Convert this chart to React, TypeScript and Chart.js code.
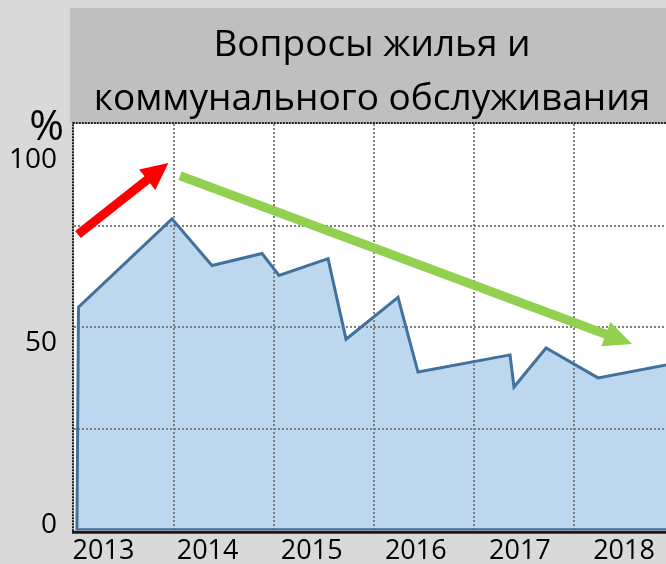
import React, { useEffect, useRef } from "react";
import { Chart, registerables } from "chart.js";
Chart.register(...registerables);

const TITLE_LINES = ["Вопросы жилья и", "коммунального обслуживания"];
const UNIT_LABEL = "%";
const YEARS = [2013, 2014, 2015, 2016, 2017, 2018];
const Y_TICKS = [0, 50, 100];
const X_MIN = 2012.717;
const X_MAX = 2018.403;
const Y_MIN = -1.36;
const Y_MAX = 110;
const GRID_COLS = 5.92;
const GRID_ROWS = 4;

// series (decimal year, %)
const SERIES_X = [2012.745, 2012.76, 2013.658, 2014.042, 2014.523, 2014.686, 2015.157, 2015.33, 2015.829, 2016.021, 2016.905, 2016.943, 2017.251, 2017.75, 2018.6];
const SERIES_Y = [Y_MIN, 59.8, 84.0, 71.2, 74.5, 68.5, 73.1, 51.0, 62.5, 42.0, 46.7, 37.9, 48.6, 40.4, 45.0];

// trend arrows: [x0, y0, x1, y1]
const RED_ARROW = [2012.755, 79.7, 2013.624, 99.3];
const GREEN_ARROW = [2013.735, 95.8, 2018.077, 49.7];

const FONT = "'Open Sans', 'Noto Sans', sans-serif";

function drawArrow(ctx: CanvasRenderingContext2D, x0: number, y0: number, x1: number, y1: number, color: string, w: number, hl: number, hw: number) {
  const dx = x1 - x0, dy = y1 - y0;
  const len = Math.hypot(dx, dy);
  const ux = dx / len, uy = dy / len;
  const px = -uy, py = ux;
  const bx = x1 - ux * hl, by = y1 - uy * hl;
  ctx.save();
  ctx.fillStyle = color;
  ctx.beginPath();
  ctx.moveTo(x0 + px * w / 2, y0 + py * w / 2);
  ctx.lineTo(bx + px * w / 2, by + py * w / 2);
  ctx.lineTo(bx + px * hw, by + py * hw);
  ctx.lineTo(x1, y1);
  ctx.lineTo(bx - px * hw, by - py * hw);
  ctx.lineTo(bx - px * w / 2, by - py * w / 2);
  ctx.lineTo(x0 - px * w / 2, y0 - py * w / 2);
  ctx.closePath();
  ctx.fill();
  ctx.restore();
}

const decorPlugin = {
  id: "decor",
  beforeDraw(chart: any) {
    const { ctx, chartArea: a, width, height } = chart;
    ctx.save();
    ctx.fillStyle = "#d9d9d9";
    ctx.fillRect(0, 0, width, height);
    ctx.fillStyle = "#bfbfbf";
    ctx.fillRect(70, 8, width - 70, a.top - 2 - 8);
    ctx.fillStyle = "#ffffff";
    ctx.fillRect(a.left, a.top, a.right - a.left, a.bottom - a.top);
    // title
    ctx.fillStyle = "#000";
    ctx.font = `37px ${FONT}`;
    ctx.textAlign = "center";
    ctx.textBaseline = "alphabetic";
    const cx = 372;
    ctx.fillText(TITLE_LINES[0], cx, 56);
    ctx.fillText(TITLE_LINES[1], cx, 110);
    // unit
    ctx.font = `42px ${FONT}`;
    ctx.textAlign = "right";
    ctx.fillText(UNIT_LABEL, 64, 140);
    ctx.restore();
  },
  afterDatasetDraw(chart: any, args: any) {
    if (args.index !== 0) return;
    const { ctx, chartArea: a } = chart;
    const xg = chart.scales.xg, yg = chart.scales.yg;
    ctx.save();
    ctx.strokeStyle = "#808080";
    ctx.lineWidth = 2;
    ctx.setLineDash([2, 2]);
    xg.ticks.forEach((t: any) => {
      const x = Math.round(xg.getPixelForValue(t.value));
      if (x <= a.left + 2 || x >= a.right) return;
      ctx.beginPath();
      ctx.moveTo(x, a.top);
      ctx.lineTo(x, a.bottom);
      ctx.stroke();
    });
    yg.ticks.forEach((t: any) => {
      const y = Math.round(yg.getPixelForValue(t.value));
      if (y <= a.top + 2 || y >= a.bottom - 2) return;
      ctx.beginPath();
      ctx.moveTo(a.left, y);
      ctx.lineTo(a.right, y);
      ctx.stroke();
    });
    ctx.restore();
  },
  afterDraw(chart: any) {
    const { ctx, chartArea: a } = chart;
    const xs = chart.scales.x, ys = chart.scales.y;
    ctx.save();
    // series baseline
    ctx.strokeStyle = "#41719c";
    ctx.lineWidth = 2;
    ctx.beginPath();
    ctx.moveTo(xs.getPixelForValue(SERIES_X[0]), a.bottom - 1);
    ctx.lineTo(a.right, a.bottom - 1);
    ctx.stroke();
    // borders
    ctx.strokeStyle = "#1a1a1a";
    ctx.lineWidth = 3;
    ctx.beginPath();
    ctx.moveTo(a.left - 2, a.bottom + 2);
    ctx.lineTo(a.right, a.bottom + 2);
    ctx.stroke();
    ctx.lineWidth = 2;
    ctx.setLineDash([2, 1]);
    ctx.beginPath();
    ctx.moveTo(a.left - 1, a.bottom + 1);
    ctx.lineTo(a.left - 1, a.top - 1);
    ctx.lineTo(a.right, a.top - 1);
    ctx.stroke();
    ctx.restore();
    // arrows
    const arrow = (d: number[], c: string, w: number, hl: number, hw: number) =>
      drawArrow(ctx, xs.getPixelForValue(d[0]), ys.getPixelForValue(d[1]), xs.getPixelForValue(d[2]), ys.getPixelForValue(d[3]), c, w, hl, hw);
    arrow(RED_ARROW, "#ff0000", 9, 27, 13);
    arrow(GREEN_ARROW, "#92d050", 9, 28, 13);
  },
};

export default function App() {
  const ref = useRef<HTMLCanvasElement | null>(null);
  useEffect(() => {
    if (!ref.current) return;
    const pts = SERIES_X.map((x, i) => ({ x, y: SERIES_Y[i] }));
    const chart = new Chart(ref.current, {
      type: "line",
      data: {
        datasets: [
          {
            data: pts,
            borderWidth: 0,
            borderColor: "rgba(0,0,0,0)",
            backgroundColor: "#bdd7ee",
            fill: "start",
            pointRadius: 0,
            tension: 0,
            order: 2,
          },
          {
            data: pts,
            borderWidth: 3,
            borderColor: "#41719c",
            fill: false,
            pointRadius: 0,
            tension: 0,
            order: 1,
          },
        ],
      },
      options: {
        animation: false,
        responsive: false,
        events: [],
        layout: { padding: { top: 124, left: 0, right: 0, bottom: 0 } },
        plugins: { legend: { display: false }, tooltip: { enabled: false }, title: { display: false } },
        scales: {
          x: {
            type: "linear",
            min: X_MIN,
            max: X_MAX,
            afterBuildTicks: (s: any) => { s.ticks = YEARS.map((v) => ({ value: v })); },
            afterFit: (s: any) => { s.height = 32; },
            grid: { display: false, drawTicks: false },
            border: { display: false },
            ticks: {
              autoSkip: false,
              maxRotation: 0,
              padding: 5,
              color: "#000",
              font: { family: FONT, size: 27 },
              callback: (v: any) => String(v),
            },
          },
          y: {
            type: "linear",
            min: Y_MIN,
            max: Y_MAX,
            afterBuildTicks: (s: any) => { s.ticks = Y_TICKS.map((v) => ({ value: v })); },
            afterFit: (s: any) => { s.width = 74; },
            grid: { display: false, drawTicks: false },
            border: { display: false },
            ticks: {
              padding: 17,
              color: "#000",
              font: { family: FONT, size: 28 },
              callback: (v: any) => String(v),
            },
          },
          xg: { type: "linear", axis: "x", position: "top", display: false, min: 0, max: GRID_COLS, ticks: { stepSize: 1 } },
          yg: { type: "linear", axis: "y", position: "right", display: false, min: 0, max: GRID_ROWS, ticks: { stepSize: 1 } },
        },
      } as any,
      plugins: [decorPlugin],
    });
    return () => chart.destroy();
  }, []);
  return (
    <div style={{ position: "fixed", left: 0, top: 0, width: 666, height: 564 }}>
      <canvas ref={ref} width={666} height={564} style={{ display: "block" }} />
    </div>
  );
}
